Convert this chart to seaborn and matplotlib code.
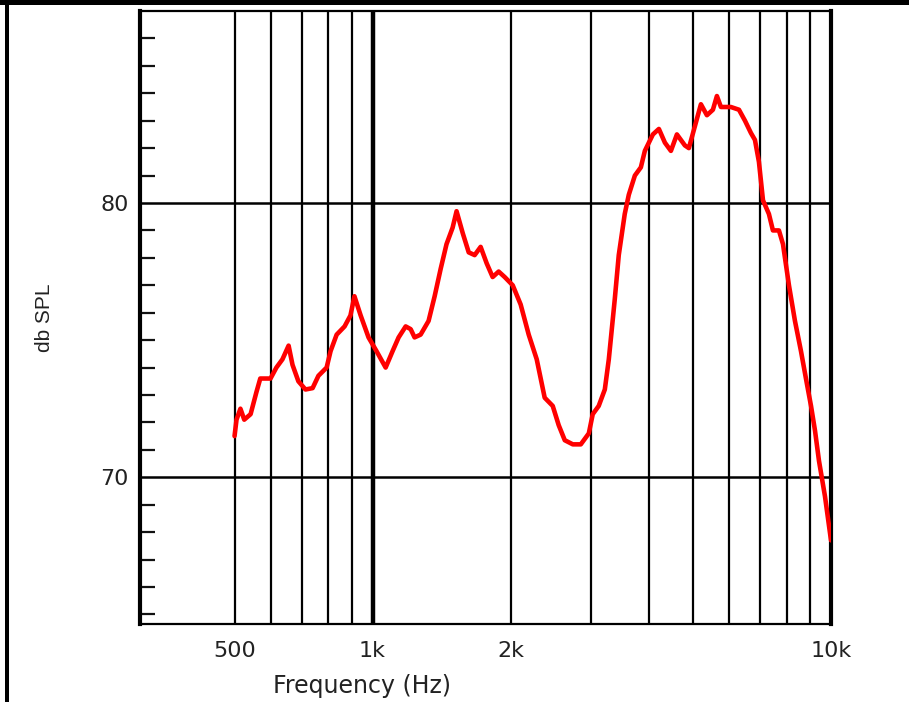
import matplotlib
matplotlib.use('Agg')

import numpy as np
import pandas as pd
import seaborn as sns
import matplotlib.pyplot as plt
from matplotlib.ticker import FixedLocator, NullFormatter
from matplotlib.patches import Rectangle

# response
freq_hz = [500, 505, 515, 525, 542, 558, 569, 599, 617, 636, 656, 669, 689, 714,
           740, 762, 794, 810, 835, 869, 895, 913, 942, 980, 1020, 1068, 1106,
           1140, 1181, 1211, 1235, 1273, 1325, 1366, 1408, 1450, 1495, 1525,
           1573, 1621, 1670, 1721, 1774, 1828, 1884, 1942, 2022, 2104, 2191,
           2281, 2374, 2472, 2547, 2626, 2734, 2846, 2963, 3022, 3114, 3211,
           3276, 3376, 3444, 3549, 3622, 3734, 3848, 3926, 4088, 4213, 4342,
           4475, 4612, 4800, 4898, 5048, 5203, 5362, 5526, 5638, 5753, 6047,
           6299, 6492, 6690, 6825, 6963, 7106, 7321, 7470, 7699, 7857, 8096,
           8344, 8600, 8862, 9045, 9228, 9414, 9703, 10000]
spl_db = [71.5, 72.1, 72.5, 72.1, 72.3, 73.1, 73.6, 73.6, 74.0, 74.3, 74.8, 74.1,
          73.5, 73.2, 73.25, 73.7, 74.0, 74.6, 75.2, 75.5, 75.9, 76.6, 75.9,
          75.1, 74.6, 74.0, 74.6, 75.1, 75.5, 75.4, 75.1, 75.2, 75.7, 76.6,
          77.6, 78.5, 79.1, 79.7, 78.9, 78.2, 78.1, 78.4, 77.8, 77.3, 77.5,
          77.3, 77.0, 76.3, 75.2, 74.3, 72.9, 72.6, 71.9, 71.35, 71.2, 71.2,
          71.6, 72.3, 72.6, 73.2, 74.3, 76.5, 78.1, 79.6, 80.3, 81.0, 81.3,
          81.9, 82.5, 82.7, 82.2, 81.9, 82.5, 82.1, 82.0, 82.8, 83.6, 83.2,
          83.4, 83.9, 83.5, 83.5, 83.4, 83.0, 82.55, 82.3, 81.5, 80.1, 79.6,
          79.0, 79.0, 78.5, 77.0, 75.7, 74.6, 73.4, 72.6, 71.7, 70.6, 69.3, 67.7]

major_freqs = [500, 1000, 2000, 10000]
major_labels = ['500', '1k', '2k', '10k']
minor_freqs = [600, 700, 800, 900, 3000, 4000, 5000, 6000, 7000, 8000, 9000]
db_labels = [70, 80]

df = pd.DataFrame({'freq': freq_hz, 'spl': spl_db})

sns.set_style('white')
plt.rcParams['font.family'] = ['DejaVu Sans']

fig = plt.figure(figsize=(9.09, 7.02), dpi=100)
ax = fig.add_axes([140 / 909, 1 - 624 / 702, 691 / 909, 613 / 702])

sns.lineplot(data=df, x='freq', y='spl', ax=ax, color='#ff0000', lw=3.3, zorder=5)

ax.set_xscale('log')
ax.set_xlim(311, 10000)
ax.set_ylim(64.65, 87.0)

ax.xaxis.set_major_locator(FixedLocator(major_freqs))
ax.set_xticklabels(major_labels)
ax.xaxis.set_minor_locator(FixedLocator(minor_freqs))
ax.xaxis.set_minor_formatter(NullFormatter())
ax.yaxis.set_major_locator(FixedLocator(db_labels))
ax.yaxis.set_minor_locator(FixedLocator(np.arange(65, 87)))

ax.tick_params(axis='x', which='both', length=0, pad=12, labelsize=16, labelcolor='#222222')
ax.tick_params(axis='y', which='major', length=0, pad=8, labelsize=16, labelcolor='#222222')
ax.tick_params(axis='y', which='minor', left=True, direction='in', length=11,
               width=1.6, color='#111111')

ax.grid(True, axis='x', which='both', color='black', lw=1.6)
ax.grid(True, axis='y', which='major', color='black', lw=1.8)
ax.axvline(1000, color='black', lw=3.2, zorder=2)

for side in ['left', 'right']:
    ax.spines[side].set_linewidth(3.0)
for side in ['top', 'bottom']:
    ax.spines[side].set_linewidth(1.6)
for s in ax.spines.values():
    s.set_color('black')

ax.set_xlabel('Frequency (Hz)', fontsize=17, color='#222222')
ax.xaxis.set_label_coords((362 - 140) / 691, -(686 - 624) / 613)
ax.xaxis.label.set_va('center')
ax.set_ylabel('')
fig.text(45 / 909, 1 - 318 / 702, 'db SPL', rotation=90, ha='center', va='center',
         fontsize=15, color='#222222', family='Liberation Sans')

# frame of the original image (top bar and left edge)
fig.add_artist(Rectangle((0, 1 - 5 / 702), 1, 5 / 702, transform=fig.transFigure,
                         color='black', lw=0))
fig.add_artist(Rectangle((5 / 909, 0), 4 / 909, 1, transform=fig.transFigure,
                         color='black', lw=0))

plt.savefig('out.png', dpi=100)
plt.close()
